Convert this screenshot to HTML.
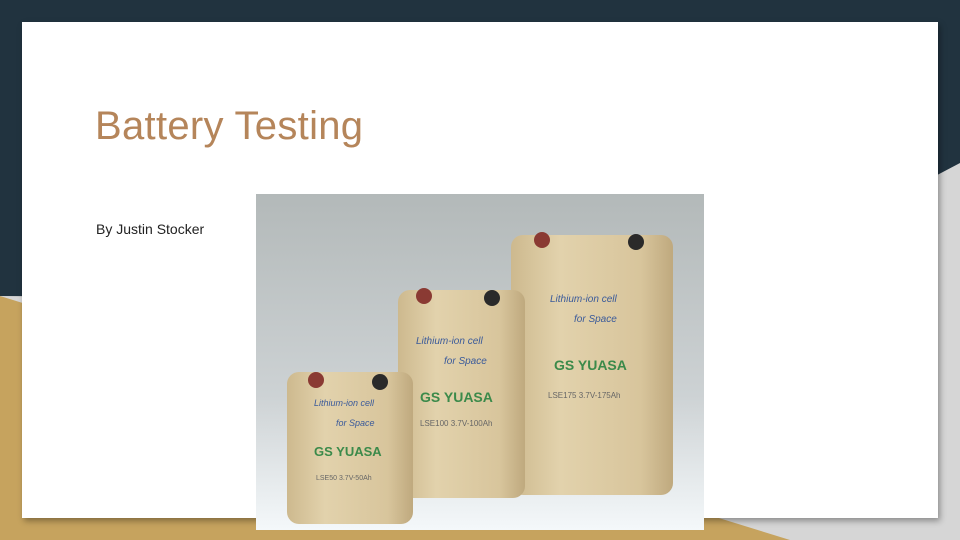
<!DOCTYPE html>
<html><head><meta charset="utf-8"><style>
html,body{margin:0;padding:0;width:960px;height:540px;overflow:hidden;background:#d6d6d6;font-family:"Liberation Sans",sans-serif}
.abs{position:absolute}
</style></head><body>
<svg class="abs" style="left:0;top:0" width="960" height="540">
<polygon points="0,0 960,0 960,163 700,300 0,296" fill="#21333f"/>
<polygon points="0,296 790,540 0,540" fill="#c6a35e"/>
</svg>
<div class="abs" style="left:22px;top:22px;width:916px;height:496px;background:#fff;box-shadow:2px 3px 6px rgba(0,0,0,0.35)"></div>
<div class="abs" style="left:95px;top:104px;font-size:40px;color:#b5855a;letter-spacing:0.3px">Battery Testing</div>
<div class="abs" style="left:96px;top:221px;font-size:14px;color:#222">By Justin Stocker</div>
<svg class="abs" style="left:256px;top:194px" width="448" height="336">
<defs>
<linearGradient id="bg" x1="0" y1="0" x2="0" y2="1"><stop offset="0" stop-color="#b3b9b9"/><stop offset="0.6" stop-color="#cdd2d4"/><stop offset="1" stop-color="#f4f8fa"/></linearGradient>
<linearGradient id="cell" x1="0" y1="0" x2="1" y2="0"><stop offset="0" stop-color="#cdb98e"/><stop offset="0.3" stop-color="#e2d2ac"/><stop offset="0.8" stop-color="#d8c59c"/><stop offset="1" stop-color="#bfa97e"/></linearGradient>
</defs>
<rect width="448" height="336" fill="url(#bg)"/>
<g>
<rect x="255" y="41" width="162" height="260" rx="12" fill="url(#cell)"/>
<circle cx="286" cy="46" r="8" fill="#8a3a33"/><circle cx="380" cy="48" r="8" fill="#2a2a2a"/>
<text x="294" y="108" font-size="10" fill="#3a5a9a" font-style="italic">Lithium-ion cell</text>
<text x="318" y="128" font-size="10" fill="#3a5a9a" font-style="italic">for Space</text>
<text x="298" y="176" font-size="14" font-weight="bold" fill="#3b8a4a">GS YUASA</text>
<text x="292" y="204" font-size="8" fill="#666">LSE175 3.7V-175Ah</text>
</g>
<g>
<rect x="142" y="96" width="127" height="208" rx="12" fill="url(#cell)"/>
<circle cx="168" cy="102" r="8" fill="#8a3a33"/><circle cx="236" cy="104" r="8" fill="#2a2a2a"/>
<text x="160" y="150" font-size="10" fill="#3a5a9a" font-style="italic">Lithium-ion cell</text>
<text x="188" y="170" font-size="10" fill="#3a5a9a" font-style="italic">for Space</text>
<text x="164" y="208" font-size="14" font-weight="bold" fill="#3b8a4a">GS YUASA</text>
<text x="164" y="232" font-size="8" fill="#666">LSE100 3.7V-100Ah</text>
</g>
<g>
<rect x="31" y="178" width="126" height="152" rx="12" fill="url(#cell)"/>
<circle cx="60" cy="186" r="8" fill="#8a3a33"/><circle cx="124" cy="188" r="8" fill="#2a2a2a"/>
<text x="58" y="212" font-size="9" fill="#3a5a9a" font-style="italic">Lithium-ion cell</text>
<text x="80" y="232" font-size="9" fill="#3a5a9a" font-style="italic">for Space</text>
<text x="58" y="262" font-size="13" font-weight="bold" fill="#3b8a4a">GS YUASA</text>
<text x="60" y="286" font-size="7" fill="#666">LSE50 3.7V-50Ah</text>
</g>
</svg>
</body></html>
